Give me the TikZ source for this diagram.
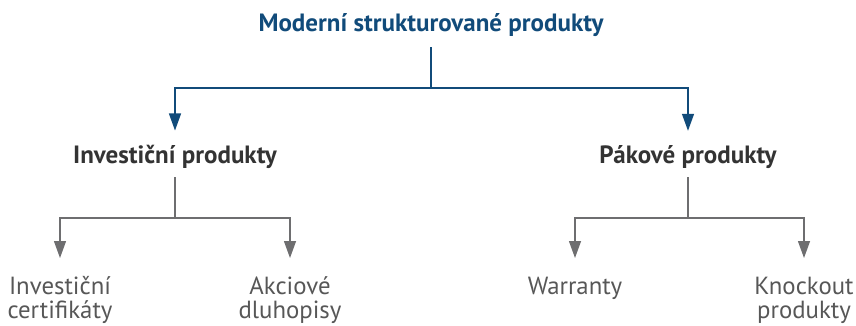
\documentclass[tikz,border=0pt]{standalone}
\usepackage{fontspec}
\setmainfont{PT Sans}
\usepackage{tikz}
\usetikzlibrary{arrows.meta, positioning}

\definecolor{dinblue}{HTML}{114B7A}
\definecolor{dingray}{HTML}{6E6E70}
\definecolor{dintext}{HTML}{333333}
\definecolor{leaftext}{HTML}{575757}

% fixed first-line height for the leaf labels
\newcommand{\leafstrut}{\rule{0pt}{20pt}}

\begin{document}
\begin{tikzpicture}[x=1pt, y=-1pt,
    head/.style={font=\fontsize{25}{28}\selectfont\bfseries, text=dinblue, inner sep=0pt, anchor=base},
    group/.style={font=\fontsize{25}{28}\selectfont\bfseries, text=dintext, inner sep=0pt, anchor=base},
    leaf/.style={font=\fontsize{24.8}{24.5}\selectfont, text=leaftext, inner sep=0pt, align=center, anchor=north},
    blueline/.style={draw=dinblue, line width=1.3pt},
    grayline/.style={draw=dingray, line width=1.3pt},
    down/.style={-{Triangle[length=17pt, width=12pt]}}]
            \useasboundingbox (0,0) rectangle (856,326);
            % nodes
            \node[head] (top) at (431,32) {Moderní strukturované produkty};
            \node[group] (inv) at (175,163) {Investiční produkty};
            \node[group] (pak) at (688,163) {Pákové produkty};
            \node[leaf] (cert) at (60,274) {\leafstrut Investiční\\certifikáty};
            \node[leaf] (akc) at (290,274) {\leafstrut Akciové\\dluhopisy};
            \node[leaf] (war) at (575,274) {\leafstrut Warranty};
            \node[leaf] (ko) at (804,274) {\leafstrut Knockout\\produkty};
            % junctions
            \coordinate (jtop) at (431,88);
            \coordinate (jinv) at (175,218);
            \coordinate (jpak) at (688,218);

            \draw[blueline, shorten <=10pt] (top) -- (jtop);
            \draw[blueline, down, shorten >=14pt] (jtop) -| (inv);
            \draw[blueline, down, shorten >=14pt] (jtop) -| (pak);

            \draw[grayline, shorten <=9pt] (inv) -- (jinv);
            \draw[grayline, down, shorten >=16pt] (jinv) -| (cert);
            \draw[grayline, down, shorten >=16pt] (jinv) -| (akc);
            \draw[grayline, shorten <=9pt] (pak) -- (jpak);
            \draw[grayline, down, shorten >=16pt] (jpak) -| (war);
            \draw[grayline, down, shorten >=16pt] (jpak) -| (ko);
\end{tikzpicture}
\end{document}
